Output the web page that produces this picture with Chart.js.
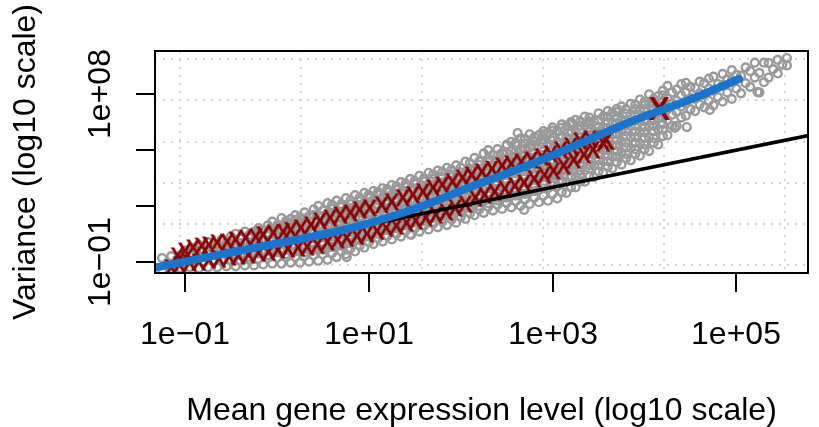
<!DOCTYPE html>
<html><head><meta charset="utf-8">
<script src="https://cdn.jsdelivr.net/npm/chart.js@4/dist/chart.umd.min.js"></script>
<style>html,body{margin:0;padding:0;background:#fff;}canvas{display:block;}</style>
</head><body>
<canvas id="c" width="819" height="427"></canvas>
<script>
// ---- data (log10 units) ----
const cloudMeanLog10 = [-1.25,-1.20,-1.15,-1.10,-1.05,-1.00,-0.95,-0.90,-0.85,-0.80,-0.75,-0.70,-0.65,-0.60,-0.55,-0.50,-0.45,-0.40,-0.35,-0.30,-0.25,-0.20,-0.15,-0.10,-0.05,0.00,0.05,0.10,0.15,0.20,0.25,0.30,0.35,0.40,0.45,0.50,0.55,0.60,0.65,0.70,0.75,0.80,0.85,0.90,0.95,1.00,1.05,1.10,1.15,1.20,1.25,1.30,1.35,1.40,1.45,1.50,1.55,1.60,1.65,1.70,1.75,1.80,1.85,1.90,1.95,2.00,2.05,2.10,2.15,2.20,2.25,2.30,2.35,2.40,2.45,2.50,2.55,2.60,2.65,2.70,2.75,2.80,2.85,2.90,2.95,3.00,3.05,3.10,3.15,3.20,3.25,3.30,3.35,3.40,3.45,3.50,3.55,3.60,3.65,3.70,3.75,3.80,3.85,3.90,3.95,4.00,4.05,4.10,4.15,4.20,4.25,4.30,4.35,4.40,4.45,4.50,4.55,4.60,4.65,4.70,4.75,4.80,4.85,4.90,4.95,5.00,5.05,5.10,5.15,5.20,5.25,5.30,5.35,5.40,5.45,5.50,5.55];
const cloudVarLog10 = [
[-1.45,-0.8],[-1.1],[-1.4,-0.7],[-1.05],[-1.35,-0.65],[-1.0,-0.4],[-1.3,-0.55],[-0.95,-0.25],
[-1.35,-0.7,-0.1],[-1.0,-0.4],[-1.3,-0.6,0.05],[-0.95,-0.3],[-1.3,-0.65,-0.05],[-0.95,-0.35,0.2],
[-1.25,-0.55,0.05],[-0.9,-0.25,0.35],[-1.25,-0.65,-0.05,0.5],[-0.95,-0.35,0.25],[-1.2,-0.6,0.0,0.62],
[-0.9,-0.3,0.3],[-1.2,-0.55,0.05,0.6],[-0.85,-0.25,0.35,0.8],[-1.15,-0.5,0.1,0.7],[-0.8,-0.2,0.4,0.95],
[-1.1,-0.5,0.1,0.7,1.15],[-0.8,-0.2,0.4,0.95],[-1.1,-0.45,0.15,0.75,1.35],[-0.75,-0.15,0.45,1.05],
[-1.05,-0.45,0.15,0.75,1.3],[-0.75,-0.15,0.45,1.05,1.5],[-1.05,-0.4,0.2,0.8,1.4],[-0.7,-0.1,0.5,1.1,1.65],
[-1.0,-0.35,0.25,0.85,1.45],[-0.65,-0.05,0.55,1.15,1.82],[-0.95,-0.3,0.3,0.9,1.5,2.0],[-0.6,0.0,0.6,1.2,1.75],
[-0.9,-0.25,0.35,0.95,1.55,2.15],[-0.55,0.05,0.65,1.25,1.85],[-0.75,-0.15,0.45,1.05,1.65,2.28],[-0.45,0.15,0.75,1.35,1.95],
[-0.6,0.0,0.6,1.2,1.8,2.42],[-0.3,0.3,0.9,1.5,2.1],[-0.45,0.15,0.75,1.35,1.95,2.58],[-0.15,0.45,1.05,1.65,2.25],
[-0.25,0.35,0.95,1.55,2.15,2.7],[0.05,0.65,1.25,1.85,2.45],[-0.05,0.55,1.15,1.75,2.35,2.8],[0.25,0.85,1.45,2.05,2.6],
[0.08,0.68,1.28,1.88,2.48,2.95],[0.38,0.98,1.58,2.18,2.75],[0.2,0.8,1.4,2.0,2.6,3.12],[0.5,1.1,1.7,2.3,2.88],
[0.35,0.95,1.55,2.15,2.75,3.28],[0.65,1.25,1.85,2.45,3.02],[0.48,1.08,1.68,2.28,2.88,3.45],[0.78,1.38,1.98,2.58,3.18],
[0.62,1.22,1.82,2.42,3.02,3.62],[0.92,1.52,2.12,2.72,3.32],[0.73,1.35,1.95,2.55,3.15,3.78],[1.05,1.65,2.25,2.85,3.45],
[0.85,1.45,2.05,2.65,3.25,3.9],[1.15,1.75,2.35,2.95,3.55],[0.97,1.57,2.17,2.77,3.37,4.05],[1.27,1.87,2.47,3.07,3.67],
[1.1,1.7,2.3,2.9,3.5,4.18],[1.4,2.0,2.6,3.2,3.8],[1.3,1.9,2.5,3.1,3.7,4.38],[1.6,2.2,2.8,3.4,4.0],
[1.5,2.1,2.7,3.3,3.9,4.58],[1.8,2.4,3.0,3.6,4.2],[1.63,2.25,2.85,3.45,4.05,4.82],[1.95,2.55,3.15,3.75,4.35],
[1.75,2.35,2.95,3.55,4.15,4.75],[2.05,2.65,3.25,3.85,4.45,5.05],[1.84,2.45,3.05,3.65,4.25,4.85],[2.15,2.75,3.35,3.95,4.55,5.25],
[1.92,2.55,3.15,3.75,4.35,4.95,5.45],[2.25,2.85,3.45,4.05,4.65,5.25],[2.0,2.65,3.25,3.85,4.45,5.05,5.62],[2.35,2.95,3.55,4.15,4.75,5.35],
[2.1,2.75,3.35,3.95,4.55,5.15,5.85],[2.45,3.05,3.65,4.25,4.85,5.45],[2.2,2.85,3.45,4.05,4.65,5.25,5.8],[2.55,3.15,3.75,4.35,4.95,5.55,6.02],
[2.28,2.95,3.55,4.15,4.75,5.35,5.95],[2.65,3.25,3.85,4.45,5.05,5.65,6.22],[2.4,3.05,3.65,4.25,4.85,5.45,6.05],[2.75,3.35,3.95,4.55,5.15,5.75,6.38],
[2.7,3.3,3.9,4.5,5.1,5.7,6.3],[3.0,3.6,4.2,4.8,5.4,6.0,6.5],[3.0,3.6,4.2,4.8,5.4,6.0,6.62],[3.3,3.9,4.5,5.1,5.7,6.3],
[3.3,3.9,4.5,5.1,5.7,6.3,6.8],[3.6,4.2,4.8,5.4,6.0,6.55],[3.55,4.15,4.75,5.35,5.95,6.55],[3.85,4.45,5.05,5.65,6.25,6.98],
[3.8,4.4,5.0,5.6,6.2,6.8],[4.1,4.7,5.3,5.9,6.5,7.1],[4.02,4.65,5.25,5.85,6.45,7.0],[4.35,4.95,5.55,6.15,6.75,7.22],
[4.22,4.85,5.45,6.05,6.65,7.35],[4.55,5.15,5.75,6.35,6.95],[4.45,5.1,5.7,6.3,6.9,7.48],[4.8,5.4,6.0,6.6,7.2],
[4.7,5.35,5.95,6.55,7.15,7.72],[5.05,5.65,6.25,6.85,7.45],[4.95,5.7,6.3,6.9,7.5,8.0],[5.4,6.0,6.6,7.2,7.75],
[5.3,6.1,6.7,7.3,7.9],[5.75,6.4,7.0,7.6,8.2],[5.8,6.6,7.2,7.8,8.45],[6.3,6.9,7.5,8.1],
[6.3,7.05,7.65,8.25],[6.75,7.35,7.95,8.55],[6.85,7.5,8.1,8.62],[7.2,7.8,8.4],
[7.1,7.75,8.35],[7.45,8.05,8.68],[7.3,7.95,8.6],[7.65,8.3,8.85],
[7.4,8.2,8.95],[7.85,8.55],[7.6,8.5,9.1],[8.1,8.8],
[7.75,8.75,9.3],[8.3,9.05],[8.05,9.0],[8.6,9.45],
[8.4,9.25],[8.9,9.7],[8.1,9.15],[8.65,9.7],
[8.9,9.68],[9.35],[9.12,9.85],[9.6],[9.55,9.95]
];
// interleaved layers of the dense core of the cloud
const coreMeanLog10 = [-0.40,-0.20,0.00,0.20,0.40,0.60,0.80,1.00,1.20,1.40,1.60,1.80,2.00,2.20,2.40,2.60,2.80,3.00,3.20,3.40,3.60,3.80,4.00,4.20];
const coreVarLog10 = [
[-0.65,0.0],[-0.55,0.15,0.65],[-0.5,0.1,0.7],[-0.45,0.15,0.8,1.25],[-0.35,0.25,0.9,1.5],[-0.2,0.35,1.0,1.6,2.05],
[0.0,0.6,1.2,1.8,2.3],[0.35,0.95,1.55,2.15,2.6],[0.7,1.3,1.9,2.5,2.9],[0.95,1.55,2.15,2.75,3.2],[1.2,1.8,2.4,3.0,3.5],
[1.45,2.05,2.65,3.25,3.85],[1.7,2.3,2.9,3.5,4.05],[2.0,2.6,3.2,3.8,4.4],[2.3,2.9,3.5,4.1,4.7],[2.55,3.15,3.75,4.35,4.95,5.4],
[2.8,3.4,4.0,4.6,5.2,5.7],[3.1,3.7,4.3,4.9,5.5,6.05],[3.5,4.1,4.7,5.3,5.9,6.4],[4.0,4.6,5.2,5.8,6.4,6.75],
[4.4,5.0,5.6,6.2,6.8],[4.8,5.4,6.0,6.6,7.2],[5.3,5.95,6.55,7.15,7.6],[6.1,6.75,7.35,7.95]
];
const core2MeanLog10 = [-0.30,-0.10,0.10,0.30,0.50,0.70,0.90,1.10,1.30,1.50,1.70,1.90,2.10,2.30,2.50,2.70,2.90,3.10,3.30,3.50,3.70,3.90,4.10];
const core2VarLog10 = [
[-0.75,-0.15,0.45],[-0.65,-0.05,0.55],[-0.6,0.0,0.6,1.2],[-0.5,0.1,0.7,1.3],[-0.35,0.3,0.9,1.45],
[-0.15,0.45,1.05,1.65,2.1],[0.15,0.75,1.35,1.95,2.45],[0.5,1.1,1.7,2.3,2.75],[0.8,1.4,2.0,2.6,3.05],
[1.1,1.7,2.3,2.9,3.35],[1.35,1.95,2.55,3.15,3.7],[1.55,2.15,2.75,3.35,3.95],[1.9,2.5,3.1,3.7,4.3],
[2.15,2.75,3.35,3.95,4.55,5.0],[2.45,3.05,3.65,4.25,4.85,5.3],[2.65,3.25,3.85,4.45,5.05,5.6],
[2.95,3.55,4.15,4.75,5.35,5.85],[3.25,3.85,4.45,5.05,5.65,6.2],[3.7,4.3,4.9,5.5,6.1,6.55],
[4.2,4.8,5.4,6.0,6.6],[4.65,5.25,5.85,6.45,7.05],[5.05,5.7,6.3,6.9,7.45],[5.65,6.3,6.9,7.5]
];
const outlierMeanLog10 = [0.76, 1.46, 2.62, 2.69, 4.33, 4.46, 4.71, 5.23];
const outlierVarLog10  = [-0.75, 0.44, 5.92, 1.78, 6.19, 6.24, 7.16, 8.12];

const redMeanLog10A = [-1.08,-1.00,-0.91,-0.82,-0.74,-0.65,-0.54,-0.45,-0.34,-0.23,-0.15,-0.04,0.07,0.15,0.26,0.37,0.47,0.58,0.69,0.80,0.90,1.01,1.14,1.25,1.37,1.48,1.59,1.70,1.80,1.91,2.02,2.12,2.23,2.34,2.45,2.55,2.66,2.77,2.88,2.98,3.09,3.20,3.30,3.41];
const redVarLog10A  = [-0.69,-0.43,-0.26,-0.16,-0.10,0.01,0.06,0.17,0.27,0.33,0.44,0.54,0.60,0.70,0.81,0.97,1.19,1.35,1.51,1.62,1.78,1.89,2.05,2.21,2.43,2.59,2.75,2.96,3.12,3.29,3.50,3.66,3.82,3.98,4.15,4.25,4.36,4.47,4.63,4.79,5.01,5.22,5.49,5.60];
const redMeanLog10B = [-1.15,-1.06,-0.95,-0.85,-0.74,-0.63,-0.52,-0.42,-0.31,-0.20,-0.09,0.01,0.12,0.23,0.33,0.44,0.55,0.66,0.76,0.87,0.98,1.09,1.19,1.30,1.41,1.51,1.62,1.73,1.84,1.94,2.05,2.16,2.26,2.37,2.48,2.59,2.69,2.80,2.91,3.01,3.12,3.23,3.34,3.44,3.55];
const redVarLog10B  = [-1.34,-1.18,-1.07,-1.02,-0.91,-0.86,-0.75,-0.69,-0.64,-0.53,-0.48,-0.37,-0.32,-0.26,-0.21,-0.10,0.06,0.17,0.27,0.38,0.49,0.65,0.81,0.92,1.08,1.19,1.35,1.51,1.67,1.89,2.10,2.43,2.59,2.75,2.91,3.07,3.23,3.45,3.66,3.88,4.15,4.47,4.74,5.01,5.38];
const redMeanLog10Mid = [3.58];
const redVarLog10Mid  = [5.54];
const redMeanLog10Big = [4.16];
const redVarLog10Big  = [7.26];

const fitMeanLog10 = [-1.327,-0.309,0.442,0.870,1.299,1.728,2.049,2.371,2.800,3.336,3.871,4.514,5.029];
const fitVarLog10  = [-1.312,-0.317,0.409,0.892,1.511,2.263,2.909,3.500,4.306,5.435,6.565,7.747,8.823];

const poissonMean = [0.01, 1e7];   // variance = mean
const poissonVar  = [0.01, 1e7];

const xTickValues = [1e-1, 1e1, 1e3, 1e5];
const xTickLabels = ["1e\u221201", "1e+01", "1e+03", "1e+05"];
const yTickValues = [1e-1, 1e2, 1e5, 1e8];
const yTickLabels = ["1e\u221201", "", "", "1e+08"];
const gridXLog10 = [-1.06, 0.26, 1.58, 2.90, 4.21, 5.53];
const gridYLog10 = [-1.19, 1.03, 3.24, 5.46, 7.68, 9.90];
const xTitle = "Mean gene expression level (log10 scale)";
const yTitle = "Variance (log10 scale)";

// ---- build ----
const toPts = (xs, ys) => xs.map((m, i) => ({x: Math.pow(10, m), y: Math.pow(10, ys[i])}));
const cloudPts = [];
const addColumns = (means, vars) => means.forEach((m, i) => (vars[i] || []).forEach(v => cloudPts.push({x: Math.pow(10, m), y: Math.pow(10, v)})));
addColumns(cloudMeanLog10, cloudVarLog10);
addColumns(coreMeanLog10, coreVarLog10);
addColumns(core2MeanLog10, core2VarLog10);
toPts(outlierMeanLog10, outlierVarLog10).forEach(p => cloudPts.push(p));
const poissonPts = poissonMean.map((m, i) => ({x: m, y: poissonVar[i]}));

const FONT_FAMILY = "'Liberation Sans', Arial, Helvetica, sans-serif";
function glyphX(size) {
  const c = document.createElement('canvas');
  const w = Math.ceil(size * 0.85), h = Math.ceil(size * 0.9);
  c.width = w; c.height = h;
  const g = c.getContext('2d');
  g.fillStyle = '#8B0000';
  g.font = 'bold ' + size + 'px ' + FONT_FAMILY;
  g.textAlign = 'center';
  g.textBaseline = 'alphabetic';
  g.fillText('X', w / 2, h / 2 + size * 0.716 / 2);
  return c;
}

const rPlot = {
  id: 'rPlot',
  beforeDatasetsDraw(chart) {
    const {ctx, chartArea: a, scales: {x, y}} = chart;
    ctx.save();
    ctx.strokeStyle = '#D3D3D3';
    ctx.lineWidth = 2;
    ctx.setLineDash([2, 6]);
    gridXLog10.forEach(v => {
      const px = Math.round(x.getPixelForValue(Math.pow(10, v)));
      ctx.beginPath(); ctx.moveTo(px, a.top); ctx.lineTo(px, a.bottom); ctx.stroke();
    });
    gridYLog10.forEach(v => {
      const py = Math.round(y.getPixelForValue(Math.pow(10, v)));
      ctx.beginPath(); ctx.moveTo(a.left, py); ctx.lineTo(a.right, py); ctx.stroke();
    });
    ctx.restore();
  },
  afterDraw(chart) {
    const {ctx, chartArea: a, scales: {x, y}} = chart;
    ctx.save();
    ctx.strokeStyle = '#000';
    ctx.lineWidth = 2;
    ctx.setLineDash([]);
    ctx.strokeRect(a.left, a.top, a.right - a.left, a.bottom - a.top);
    ctx.fillStyle = '#000';
    ctx.font = '32px ' + FONT_FAMILY;
    ctx.textAlign = 'center';
    ctx.textBaseline = 'alphabetic';
    xTickValues.forEach((v, i) => {
      const px = Math.round(x.getPixelForValue(v));
      ctx.beginPath(); ctx.moveTo(px, a.bottom); ctx.lineTo(px, a.bottom + 19); ctx.stroke();
      ctx.fillText(xTickLabels[i], px, a.bottom + 71);
    });
    yTickValues.forEach((v, i) => {
      const py = Math.round(y.getPixelForValue(v));
      ctx.beginPath(); ctx.moveTo(a.left, py); ctx.lineTo(a.left - 19, py); ctx.stroke();
      if (yTickLabels[i]) {
        ctx.save(); ctx.translate(a.left - 45, py); ctx.rotate(-Math.PI / 2);
        ctx.fillText(yTickLabels[i], 0, 0); ctx.restore();
      }
    });
    ctx.fillText(xTitle, (a.left + a.right) / 2, 420);
    ctx.save(); ctx.translate(35, (a.top + a.bottom) / 2); ctx.rotate(-Math.PI / 2);
    ctx.fillText(yTitle, 0, 0); ctx.restore();
    ctx.restore();
  }
};

new Chart(document.getElementById('c'), {
  type: 'scatter',
  data: { datasets: [
    {label: 'fit', data: toPts(fitMeanLog10, fitVarLog10), showLine: true, borderColor: '#1874CD', backgroundColor: '#1874CD',
     borderWidth: 8, pointRadius: 0, cubicInterpolationMode: 'monotone', borderCapStyle: 'round', order: 0, clip: 0},
    {label: 'poisson', data: poissonPts, showLine: true, borderColor: '#000000', borderWidth: 3.5, pointRadius: 0, order: 1, clip: 0},
    {label: 'binBig', data: toPts(redMeanLog10Big, redVarLog10Big), pointStyle: glyphX(33), pointRadius: 10, order: 2, clip: 0},
    {label: 'binMid', data: toPts(redMeanLog10Mid, redVarLog10Mid), pointStyle: glyphX(27), pointRadius: 8, order: 3, clip: 0},
    {label: 'binA', data: toPts(redMeanLog10A, redVarLog10A), pointStyle: glyphX(23), pointRadius: 6, order: 4, clip: 0},
    {label: 'binB', data: toPts(redMeanLog10B, redVarLog10B), pointStyle: glyphX(23), pointRadius: 6, order: 5, clip: 0},
    {label: 'genes', data: cloudPts, pointStyle: 'circle', pointRadius: 3.9, borderColor: '#999999', borderWidth: 2.4,
     backgroundColor: 'rgba(0,0,0,0)', order: 6, clip: 0}
  ]},
  options: {
    responsive: false, animation: false, devicePixelRatio: 1, events: [],
    layout: {padding: {left: 155, top: 51, right: 1, bottom: 154}},
    plugins: {legend: {display: false}, tooltip: {enabled: false}},
    scales: {
      x: {type: 'logarithmic', display: false, bounds: 'data', min: Math.pow(10, -1.3269), max: Math.pow(10, 5.7792)},
      y: {type: 'logarithmic', display: false, bounds: 'data', min: Math.pow(10, -1.6075), max: Math.pow(10, 10.328)}
    }
  },
  plugins: [rPlot]
});
</script>
</body></html>
